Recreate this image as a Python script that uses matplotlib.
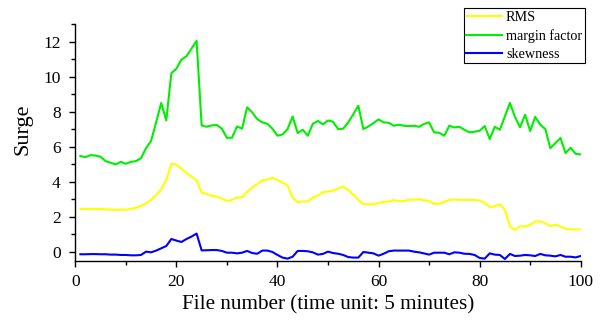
import numpy as np
import matplotlib
matplotlib.use("Agg")
import matplotlib.pyplot as plt
from matplotlib.ticker import MultipleLocator

rms = [2.46, 2.45, 2.44, 2.45, 2.45, 2.43, 2.41, 2.40, 2.41, 2.41,
       2.46, 2.52, 2.62, 2.78, 2.97, 3.24, 3.58, 4.11, 5.03, 4.99,
       4.74, 4.50, 4.30, 4.08, 3.39, 3.31, 3.20, 3.16, 3.05, 2.91,
       2.97, 3.10, 3.12, 3.43, 3.68, 3.87, 4.10, 4.13, 4.23, 4.10,
       3.96, 3.79, 3.10, 2.84, 2.88, 2.88, 3.10, 3.22, 3.41, 3.45,
       3.50, 3.62, 3.73, 3.54, 3.28, 2.97, 2.74, 2.72, 2.72, 2.80,
       2.86, 2.88, 2.95, 2.90, 2.90, 2.99, 2.97, 3.01, 2.95, 2.91,
       2.74, 2.76, 2.86, 2.97, 2.99, 2.97, 2.97, 2.97, 2.97, 2.93,
       2.82, 2.55, 2.61, 2.72, 2.40, 1.45, 1.26, 1.47, 1.45, 1.54,
       1.73, 1.75, 1.64, 1.47, 1.56, 1.45, 1.33, 1.30, 1.28, 1.30]

margin_factor = [5.47, 5.41, 5.52, 5.50, 5.43, 5.18, 5.09, 4.99, 5.14, 5.03,
                 5.14, 5.18, 5.35, 5.92, 6.34, 7.40, 8.50, 7.50, 10.19, 10.45,
                 10.97, 11.16, 11.60, 12.04, 7.22, 7.14, 7.22, 7.24, 7.03, 6.51,
                 6.51, 7.16, 7.03, 8.25, 7.96, 7.58, 7.39, 7.31, 7.03, 6.63,
                 6.70, 7.01, 7.73, 6.78, 6.97, 6.63, 7.31, 7.47, 7.28, 7.50,
                 7.43, 7.01, 7.03, 7.39, 7.85, 8.34, 7.01, 7.16, 7.35, 7.56,
                 7.39, 7.37, 7.20, 7.26, 7.20, 7.18, 7.20, 7.14, 7.30, 7.39,
                 6.82, 6.80, 6.63, 7.20, 7.10, 7.14, 6.97, 6.82, 6.86, 6.91,
                 7.18, 6.44, 7.14, 6.97, 7.73, 8.50, 7.70, 7.11, 7.83, 6.90,
                 7.70, 7.26, 7.01, 5.92, 6.21, 6.50, 5.64, 5.94, 5.60, 5.56]

skewness = [-0.13, -0.13, -0.12, -0.12, -0.13, -0.13, -0.15, -0.15, -0.17, -0.17,
            -0.19, -0.19, -0.17, 0.02, -0.02, 0.08, 0.21, 0.34, 0.74, 0.65,
            0.57, 0.74, 0.88, 1.05, 0.09, 0.10, 0.11, 0.11, 0.06, -0.04,
            -0.04, -0.08, -0.04, 0.06, -0.06, -0.10, 0.08, 0.08, 0.00, -0.17,
            -0.32, -0.38, -0.27, 0.06, 0.06, 0.04, -0.02, -0.15, -0.11, 0.02,
            -0.06, -0.10, -0.17, -0.29, -0.32, -0.32, 0.00, -0.04, -0.08, -0.21,
            -0.10, 0.04, 0.08, 0.08, 0.08, 0.08, 0.02, -0.02, -0.08, -0.15,
            -0.04, -0.04, -0.04, -0.13, -0.02, -0.04, -0.10, -0.11, -0.17, -0.34,
            -0.38, -0.08, -0.15, -0.17, -0.40, -0.11, -0.23, -0.21, -0.17, -0.19,
            -0.23, -0.11, -0.19, -0.21, -0.25, -0.17, -0.27, -0.27, -0.31, -0.23]

file_number = np.arange(1, len(rms) + 1)

plt.rcParams['font.family'] = ['Liberation Serif', 'DejaVu Serif']

fig = plt.figure(figsize=(6.03, 3.2), dpi=100)
ax = fig.add_axes([75.3 / 603, 1 - 260.75 / 320, (580.7 - 75.3) / 603, (260.75 - 24) / 320])

ax.plot(file_number, rms, color='#FFFF00', lw=1.5, label='RMS')
ax.plot(file_number, margin_factor, color='#00EE00', lw=1.5, label='margin factor')
ax.plot(file_number, skewness, color='#0000FF', lw=1.5, label='skewness')

ax.set_xlim(0, 100)
ax.set_ylim(-0.5, 13)
ax.xaxis.set_major_locator(MultipleLocator(20))
ax.xaxis.set_minor_locator(MultipleLocator(10))
ax.yaxis.set_major_locator(MultipleLocator(2))
ax.yaxis.set_minor_locator(MultipleLocator(1))
ax.tick_params(which='major', direction='out', length=4, width=1, labelsize=12.5)
ax.tick_params(axis='x', which='major', pad=5.5)
ax.tick_params(axis='y', which='major', pad=6.5)
ax.tick_params(which='minor', direction='out', length=3, width=1)
for s in ['top', 'right']:
    ax.spines[s].set_visible(False)
for s in ['left', 'bottom']:
    ax.spines[s].set_linewidth(1.0)

ax.set_xlabel('File number (time unit: 5 minutes)', fontsize=15.2, labelpad=4)
ax.set_ylabel('Surge', fontsize=16)
ax.yaxis.set_label_coords(-0.085, 0.555)

leg = ax.legend(loc='upper right', bbox_to_anchor=(585 / 603, 1 - 8 / 320),
                bbox_transform=fig.transFigure, fontsize=10.2, frameon=True,
                fancybox=False, edgecolor='black', framealpha=1,
                borderpad=0.2, labelspacing=0.35, handlelength=2.5,
                handletextpad=0.3, borderaxespad=0)
leg.get_frame().set_linewidth(0.8)

fig.savefig('out.png', dpi=100)
